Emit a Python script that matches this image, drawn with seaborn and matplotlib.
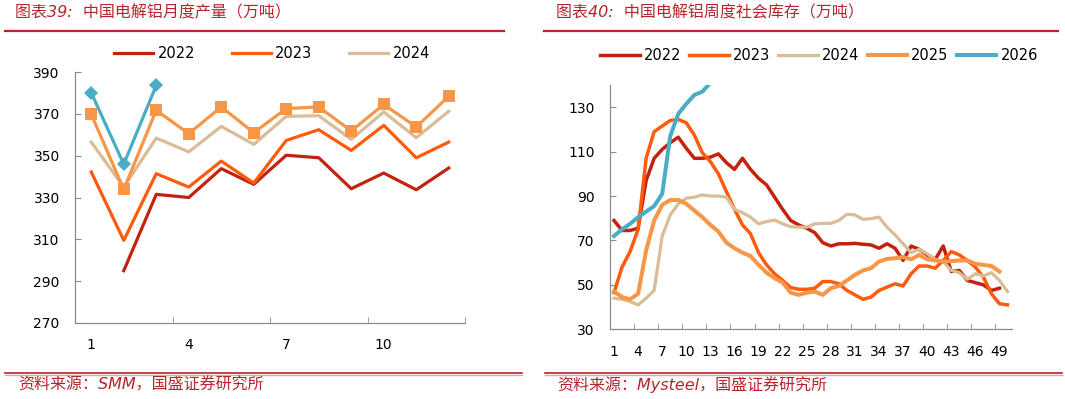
import matplotlib
matplotlib.use('Agg')
import matplotlib.pyplot as plt
from matplotlib.lines import Line2D
import numpy as np
import pandas as pd
import seaborn as sns

# ===== 图表39 数据：中国电解铝月度产量（万吨）=====
months = list(range(1, 13))
prod_2022 = [np.nan, 295, 331.5, 330, 343.8, 336.3, 350.2, 349, 334.2, 341.7, 333.7, 344.1]
prod_2023 = [342.2, 309.5, 341.4, 335, 347.4, 336.9, 357.3, 362.4, 352.5, 364.5, 349, 356.5]
prod_2024 = [356.5, 335, 358.4, 351.8, 364, 355.4, 368.8, 369.1, 357.8, 370.9, 358.6, 371.2]
prod_2025 = [369.8, 333.9, 371.7, 360.5, 373.3, 361, 372.5, 373.3, 361.8, 374.5, 363.7, 378.4]
prod_2026 = [380.1, 345.9, 383.6]
month_labels = [1, 4, 7, 10]
prod_yticks = [270, 290, 310, 330, 350, 370, 390]

# ===== 图表40 数据：中国电解铝周度社会库存（万吨）=====
inv_2022 = [79, 74.5, 74.5, 75.5, 97, 107, 111, 114, 116.5, 111.5,
            107, 107, 107.5, 109, 105, 102, 107, 102, 98, 95,
            89.5, 84, 79, 77, 75.5, 73.5, 69, 67.5, 68.5, 68.5,
            68.7, 68.3, 68, 66.5, 68.5, 66.5, 61, 67.5, 66, 63.5,
            61.5, 67.5, 56, 56.5, 52, 51, 50, 47.5, 48.5]
inv_2023 = [46.5, 58, 65, 75, 107, 119, 121.5, 124, 124.5, 123,
            117.5, 109.5, 105.5, 100, 92, 84, 77, 73, 64.5, 59,
            55, 52, 48.8, 48, 48, 48.5, 51.5, 51.5, 50.5, 47.5,
            45.5, 43.5, 44.5, 47.5, 49, 50.5, 49.5, 55, 58.5, 58.5,
            57.5, 61, 65, 63.5, 61, 58, 53.5, 46, 41.5, 41]
inv_2024 = [44, 43.5, 42.5, 41, 44, 47.5, 72, 81.5, 86.5, 89,
            89.5, 90.5, 90, 90, 89.5, 84, 82.5, 80.5, 77.5, 78.5,
            79.2, 77.5, 76.2, 76, 76, 77.5, 77.7, 77.7, 79, 81.8,
            81.5, 79.5, 79.8, 80.5, 76, 72.5, 68.5, 64.5, 66, 64,
            61.5, 60.5, 56.5, 55.5, 52.5, 55, 54, 55.5, 52, 47]
inv_2025 = [47, 44.5, 43.5, 46, 65.5, 79, 86, 88.2, 88.2, 86.5,
            83.5, 80.5, 77, 74, 69, 66.5, 64.5, 63, 59, 55.5,
            53, 51, 46.5, 45.5, 46.5, 47, 45.5, 48.5, 49.5, 52,
            54.5, 56.5, 57.5, 60.5, 61.7, 62, 62.5, 61.5, 63.5, 61.5,
            61, 60.5, 60.7, 61, 61, 59.5, 59, 58.5, 56]
inv_2026 = [72, 75, 77.5, 80.5, 83, 85.5, 91, 117, 127, 131.5, 135.5, 137, 141]
week_labels = list(range(1, 50, 3))
inv_yticks = [30, 50, 70, 90, 110, 130]

years = ['2022', '2023', '2024', '2025', '2026']
colors = ['#C1230E', '#FF5B0F', '#D8BD97', '#F79646', '#4BACC6']
red = '#B5252B'
axis_gray = '#8C8C8C'

plt.rcParams['font.family'] = ['DejaVu Sans', 'Noto Sans CJK SC']
cjk = ['DejaVu Sans', 'Noto Sans CJK SC']


def to_frame(vals):
    df = pd.DataFrame({'x': np.arange(1, len(vals) + 1), 'y': vals})
    return df.dropna()


def style_axis(ax, xmax, label_pos, yticks, ylim):
    sns.despine(ax=ax)
    for s in ['left', 'bottom']:
        ax.spines[s].set_color(axis_gray)
        ax.spines[s].set_linewidth(0.9)
    ax.set_xlim(0.5, xmax + 0.5)
    ax.set_ylim(*ylim)
    ax.set_xticks(label_pos)
    ax.set_xticklabels([str(v) for v in label_pos])
    ax.set_xticks(np.arange(3.5, xmax + 0.6, 3), minor=True)
    ax.set_yticks(yticks)
    ax.tick_params(axis='x', which='major', length=0, pad=11, labelsize=10)
    ax.tick_params(axis='x', which='minor', direction='in', length=4, color=axis_gray)
    ax.tick_params(axis='y', direction='in', length=4, color=axis_gray, pad=11, labelsize=10)
    ax.set_xlabel('')
    ax.set_ylabel('')


fig = plt.figure(figsize=(10.65, 3.99), dpi=100)

# ---------- 左图 ----------
ax1 = fig.add_axes([75 / 1065, 1 - 323 / 399, 390 / 1065, 251 / 399])
prod = [prod_2022, prod_2023, prod_2024, prod_2025, prod_2026]
markers = [None, None, None, 's', 'D']
for vals, c, m, yr in zip(prod, colors, markers, years):
    d = to_frame(vals)
    sns.lineplot(x=d['x'], y=d['y'], ax=ax1, color=c, lw=2.3, marker=m,
                 markersize=8 if m == 's' else 7, markeredgewidth=0,
                 estimator=None, sort=False, label=yr)
style_axis(ax1, 12, month_labels, prod_yticks, (270, 390))
h1 = ax1.get_lines()[:3]
ax1.legend(h1, years[:3], loc='center', bbox_to_anchor=(272 / 1065, 1 - 54 / 399),
           bbox_transform=fig.transFigure, ncol=3, frameon=False, fontsize=10.5,
           handlelength=2.7, handletextpad=0.3, columnspacing=2.5)

# ---------- 右图 ----------
ax2 = fig.add_axes([610 / 1065, 1 - 329.3 / 399, 401.5 / 1065, 244.3 / 399])
inv = [inv_2022, inv_2023, inv_2024, inv_2025, inv_2026]
widths = [2.5, 2.5, 2.3, 2.9, 2.9]
for vals, c, w, yr in zip(inv, colors, widths, years):
    d = to_frame(vals)
    sns.lineplot(x=d['x'], y=d['y'], ax=ax2, color=c, lw=w,
                 estimator=None, sort=False, label=yr)
style_axis(ax2, 50, week_labels, inv_yticks, (30, 140))
h2 = ax2.get_lines()[:5]
ax2.legend(h2, years, loc='center', bbox_to_anchor=(819 / 1065, 1 - 56 / 399),
           bbox_transform=fig.transFigure, ncol=5, frameon=False, fontsize=10.5,
           handlelength=2.7, handletextpad=0.3, columnspacing=0.55)

# ---------- 标题与来源 ----------
fig.text(15 / 1065, 1 - 13 / 399, '图表39:  中国电解铝月度产量（万吨）', color=red,
         fontsize=11.5, fontstyle='italic', family=cjk, va='center', ha='left')
fig.text(556 / 1065, 1 - 13 / 399, '图表40:  中国电解铝周度社会库存（万吨）', color=red,
         fontsize=11.5, fontstyle='italic', family=cjk, va='center', ha='left')
fig.text(18 / 1065, 1 - 385 / 399, '资料来源：SMM，国盛证券研究所', color=red,
         fontsize=11.5, fontstyle='italic', family=cjk, va='center', ha='left')
fig.text(557 / 1065, 1 - 385 / 399, '资料来源：Mysteel，国盛证券研究所', color=red,
         fontsize=11.5, fontstyle='italic', family=cjk, va='center', ha='left')

for x0, x1 in [(5, 504), (544, 1058)]:
    fig.add_artist(Line2D([x0 / 1065, x1 / 1065], [1 - 31 / 399] * 2, color=red, lw=1.6))
for x0, x1 in [(5, 522), (545, 1062)]:
    fig.add_artist(Line2D([x0 / 1065, x1 / 1065], [1 - 372.5 / 399] * 2, color=red, lw=1.2))
    fig.add_artist(Line2D([x0 / 1065, x1 / 1065], [1 - 374.5 / 399] * 2, color='#E9A3A6', lw=1.0))

plt.savefig('out.png', dpi=100)
